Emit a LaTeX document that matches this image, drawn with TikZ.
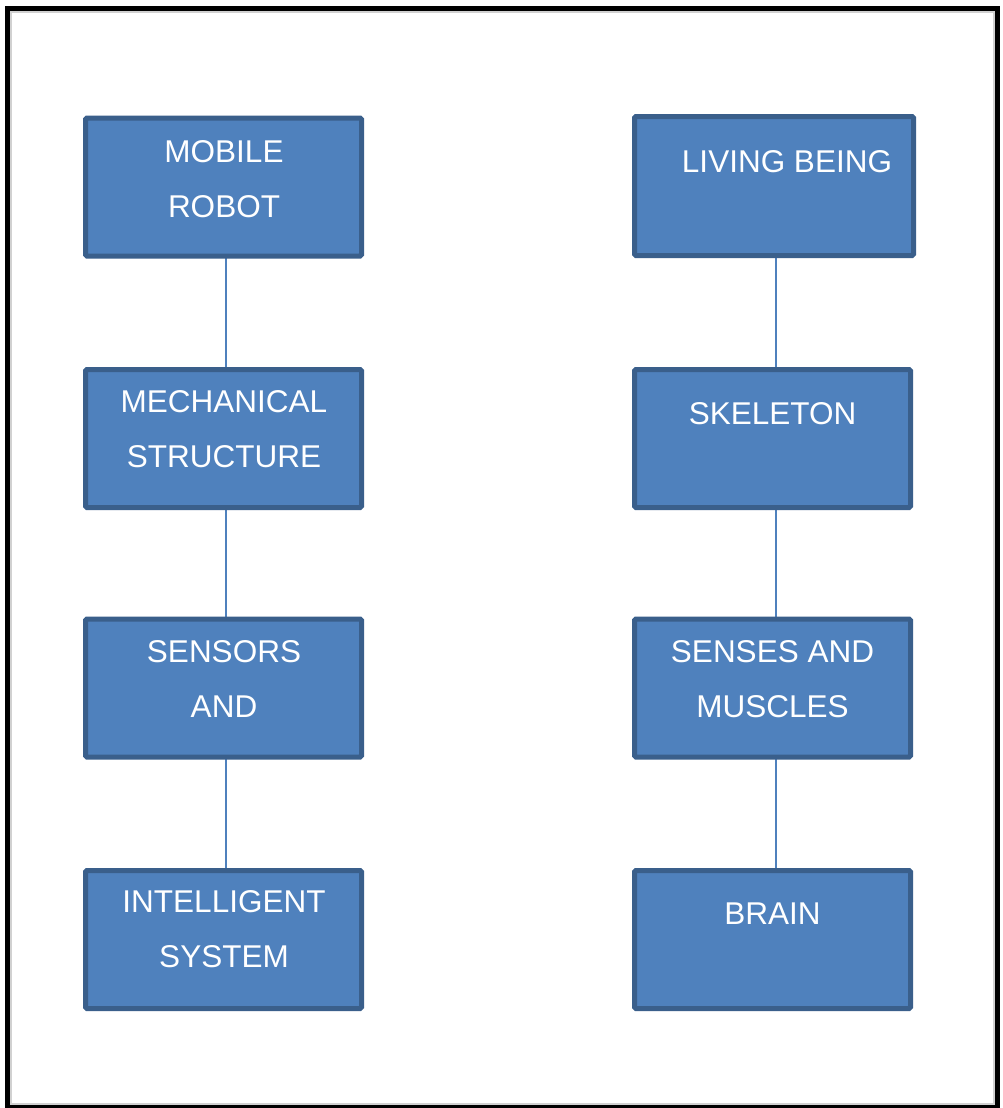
\documentclass[tikz,border=0pt]{standalone}
\usepackage{fontspec}
\setmainfont{Liberation Sans}
\usetikzlibrary{backgrounds}
\definecolor{boxfill}{HTML}{4F81BD}
\definecolor{boxline}{HTML}{3A5F8B}
\definecolor{linkcol}{HTML}{4F81BD}
\begin{document}
\begin{tikzpicture}[x=1pt,y=-1pt,
  box/.style={draw=boxline, line width=5pt, fill=boxfill, rounded corners=1.5pt,
    inner sep=0pt, outer sep=0pt, minimum width=276pt, minimum height=138pt},
  lbl/.style={text=white, font=\fontsize{31.5}{38}\selectfont, anchor=base, inner sep=0pt},
  link/.style={draw=linkcol, line width=1.6pt}]
\useasboundingbox (0,0) rectangle (1003,1108);

% outer frame with a soft inner shade
\draw[black!18, line width=2pt] (10.5,12.5) rectangle (993.5,1103.5);
\draw[black, line width=5pt] (7,9) rectangle (997,1107);

% left column: mobile robot
\node[box] (mr) at (223.5,187) {};
\node[box] (ms) at (223.5,438.5) {};
\node[box] (sa) at (223.5,688) {};
\node[box] (is) at (223.5,939.5) {};

% right column: living being
\node[box, minimum width=279pt, minimum height=139pt] (lb) at (774,186) {};
\node[box] (sk) at (772.5,438.5) {};
\node[box] (sm) at (772.5,688) {};
\node[box] (br) at (772.5,939.5) {};

% connector columns, drawn beneath the boxes
\coordinate (cl) at (226,0);
\coordinate (cr) at (776,0);
\begin{scope}[on background layer]
  \fill[white] (0,0) rectangle (1003,1108);
  \draw[link] (mr.south -| cl) -- (ms.north -| cl);
  \draw[link] (ms.south -| cl) -- (sa.north -| cl);
  \draw[link] (sa.south -| cl) -- (is.north -| cl);
  \draw[link] (lb.south -| cr) -- (sk.north -| cr);
  \draw[link] (sk.south -| cr) -- (sm.north -| cr);
  \draw[link] (sm.south -| cr) -- (br.north -| cr);
\end{scope}

% box texts
\node[lbl] (mr1) at (224,162) {MOBILE};
\node[lbl] (mr2) at (224,217) {ROBOT};
\node[lbl] (ms1) at (224,412) {MECHANICAL};
\node[lbl] (ms2) at (224,467) {STRUCTURE};
\node[lbl] (sa1) at (224,662) {SENSORS};
\node[lbl] (sa2) at (224,717) {AND};
\node[lbl] (is1) at (224,912) {INTELLIGENT};
\node[lbl] (is2) at (224,967) {SYSTEM};

\node[lbl] (lb1) at (787,172) {LIVING BEING};
\node[lbl] (sk1) at (772.5,424) {SKELETON};
\node[lbl] (sm1) at (772.5,662) {SENSES AND};
\node[lbl] (sm2) at (772.5,717) {MUSCLES};
\node[lbl] (br1) at (772.5,924) {BRAIN};
\end{tikzpicture}
\end{document}
